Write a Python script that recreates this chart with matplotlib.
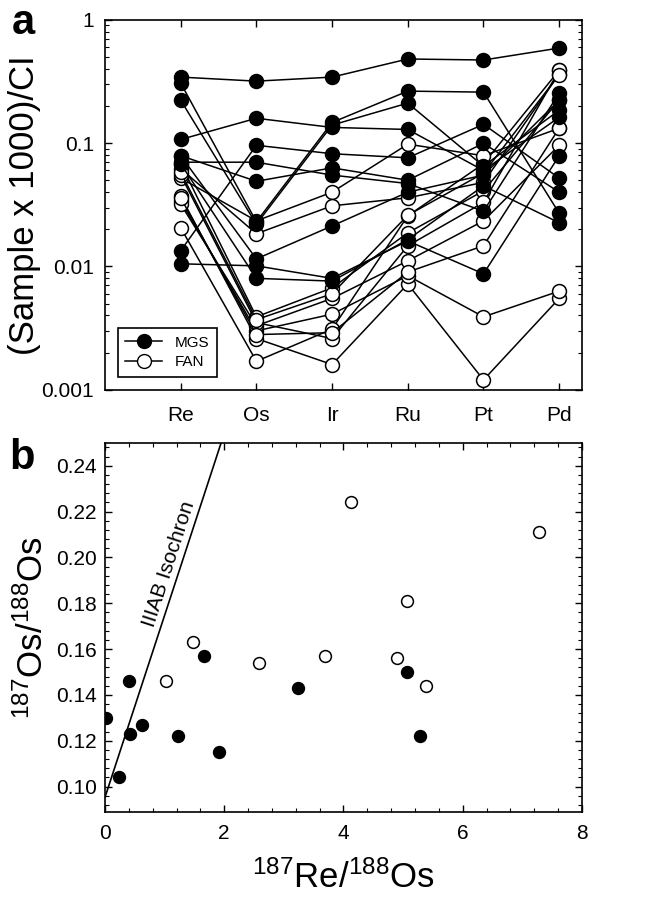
import matplotlib
matplotlib.use("Agg")
import matplotlib.pyplot as plt
import numpy as np
from matplotlib.lines import Line2D
from matplotlib.ticker import MultipleLocator, LogLocator, NullFormatter, FixedLocator

plt.rcParams['font.family'] = ['Liberation Sans', 'DejaVu Sans']
plt.rcParams['mathtext.fontset'] = 'custom'
plt.rcParams['mathtext.rm'] = 'Liberation Sans'
plt.rcParams['mathtext.it'] = 'Liberation Sans:italic'

# panel a: CI-normalised HSE patterns
elements = ['Re', 'Os', 'Ir', 'Ru', 'Pt', 'Pd']

mgs_re = [0.343, 0.107, 0.307, 0.223, 0.0134, 0.079, 0.070, 0.0105, 0.079, 0.068]
mgs_os = [0.318, 0.159, 0.023, 0.022, 0.096, 0.049, 0.070, 0.0101, 0.0115, 0.0080]
mgs_ir = [0.343, 0.134, 0.147, 0.140, 0.082, 0.063, 0.055, 0.0080, 0.0213, 0.0076]
mgs_ru = [0.481, 0.129, 0.264, 0.211, 0.076, 0.050, 0.047, 0.0161, 0.040, 0.0165]
mgs_pt = [0.472, 0.060, 0.259, 0.065, 0.142, 0.0995, 0.028, 0.0087, 0.055, 0.045]
mgs_pd = [0.59, 0.162, 0.027, 0.185, 0.052, 0.040, 0.254, 0.079, 0.223, 0.0226]

fan_re = [0.0206, 0.037, 0.034, 0.052, 0.062, 0.068, 0.032, 0.055, 0.036, 0.058]
fan_os = [0.0017, 0.0026, 0.0030, 0.0234, 0.0184, 0.0039, 0.0033, 0.0035, 0.0028, 0.0037]
fan_ir = [0.0031, 0.0016, 0.0041, 0.040, 0.031, 0.0067, 0.0055, 0.0026, 0.0029, 0.0060]
fan_ru = [0.0257, 0.0072, 0.0084, 0.098, 0.036, 0.0187, 0.0111, 0.0147, 0.0090, 0.0260]
fan_pt = [0.068, 0.0012, 0.0039, 0.079, 0.048, 0.041, 0.0234, 0.033, 0.0147, 0.057]
fan_pd = [0.39, 0.0055, 0.0063, 0.132, 0.363, 0.223, 0.096, 0.39, 0.132, 0.36]

# panel b: Re-Os isotopes
mgs_reos = [0.01, 0.24, 0.40, 0.42, 0.62, 1.23, 1.66, 1.92, 3.23, 5.07, 5.29]
mgs_osos = [0.130, 0.104, 0.146, 0.123, 0.127, 0.122, 0.157, 0.115, 0.143, 0.150, 0.122]
fan_reos = [1.03, 1.47, 2.58, 3.69, 4.13, 4.90, 5.06, 5.38, 7.28]
fan_osos = [0.146, 0.163, 0.154, 0.157, 0.224, 0.156, 0.181, 0.144, 0.211]

iso_x = [0.0, 2.0]
iso_y = [0.0953, 0.2541]

fig = plt.figure(figsize=(6.48, 9), dpi=100)
ax1 = fig.add_axes([0.162, 0.567, 0.736, 0.411])
ax2 = fig.add_axes([0.162, 0.098, 0.736, 0.410])

xpos = np.arange(1, len(elements) + 1)
mgs = np.array([mgs_re, mgs_os, mgs_ir, mgs_ru, mgs_pt, mgs_pd]).T
fan = np.array([fan_re, fan_os, fan_ir, fan_ru, fan_pt, fan_pd]).T

for row in fan:
    ax1.plot(xpos, row, '-o', color='black', lw=1.1, ms=10, mfc='white',
             mec='black', mew=1.1)
for row in mgs:
    ax1.plot(xpos, row, '-o', color='black', lw=1.1, ms=10, mfc='black',
             mec='black', mew=1.1)

ax1.set_yscale('log')
ax1.set_ylim(0.001, 1)
ax1.set_xlim(0, 6.3)
ax1.xaxis.set_major_locator(FixedLocator(xpos))
ax1.set_xticklabels(elements, fontsize=15)
ax1.set_yticks([0.001, 0.01, 0.1, 1])
ax1.set_yticklabels(['0.001', '0.01', '0.1', '1'], fontsize=15)
ax1.yaxis.set_minor_locator(LogLocator(base=10, subs=np.arange(2, 10)))
ax1.yaxis.set_minor_formatter(NullFormatter())
ax1.tick_params(which='both', direction='in', top=True, right=True)
ax1.tick_params(which='major', length=5, width=1, pad=8)
ax1.tick_params(which='minor', length=3, width=0.8)
ax1.tick_params(axis='x', pad=12)
ax1.set_ylabel('(Sample x 1000)/CI', fontsize=25, labelpad=0)
for s in ax1.spines.values():
    s.set_linewidth(1.2)

handles = [
    Line2D([0], [0], color='black', lw=1.1, marker='o', ms=10, mfc='black',
           mec='black', label='MGS'),
    Line2D([0], [0], color='black', lw=1.1, marker='o', ms=10, mfc='white',
           mec='black', label='FAN'),
]
leg = ax1.legend(handles=handles, loc='lower left', bbox_to_anchor=(0.027, 0.035),
                 borderaxespad=0, fontsize=11, fancybox=False, framealpha=1,
                 edgecolor='black', handlelength=2.4, labelspacing=0.35,
                 borderpad=0.5)
leg.get_frame().set_linewidth(1.2)

# panel b
ax2.plot(iso_x, iso_y, color='black', lw=1.2)
ax2.plot(fan_reos, fan_osos, 'o', ms=8.5, mfc='white', mec='black', mew=1.1)
ax2.plot(mgs_reos, mgs_osos, 'o', ms=8.5, mfc='black', mec='black', mew=1.1)
ax2.text(1.08, 0.197, 'IIIAB Isochron', rotation=72, fontsize=15,
         ha='center', va='center')

ax2.set_xlim(0, 8)
ax2.set_ylim(0.089, 0.25)
ax2.xaxis.set_major_locator(MultipleLocator(2))
ax2.xaxis.set_minor_locator(MultipleLocator(0.4))
ax2.yaxis.set_major_locator(FixedLocator([0.10, 0.12, 0.14, 0.16, 0.18, 0.20, 0.22, 0.24]))
ax2.yaxis.set_minor_locator(MultipleLocator(0.004))
ax2.set_yticklabels(['0.10', '0.12', '0.14', '0.16', '0.18', '0.20', '0.22', '0.24'],
                    fontsize=15)
ax2.set_xticks([0, 2, 4, 6, 8])
ax2.set_xticklabels(['0', '2', '4', '6', '8'], fontsize=15)
ax2.tick_params(which='both', direction='in', top=True, right=True)
ax2.tick_params(which='major', length=5, width=1, pad=6)
ax2.tick_params(which='minor', length=3, width=0.8)
ax2.tick_params(axis='x', pad=9)
ax2.set_xlabel(r'$^{187}$Re/$^{188}$Os', fontsize=25, labelpad=12)
ax2.set_ylabel(r'$^{187}$Os/$^{188}$Os', fontsize=25, labelpad=4)
for s in ax2.spines.values():
    s.set_linewidth(1.2)

fig.text(0.018, 0.997, 'a', fontsize=30, fontweight='bold', va='top')
fig.text(0.015, 0.513, 'b', fontsize=30, fontweight='bold', va='top')

fig.savefig('out.png', dpi=100)
